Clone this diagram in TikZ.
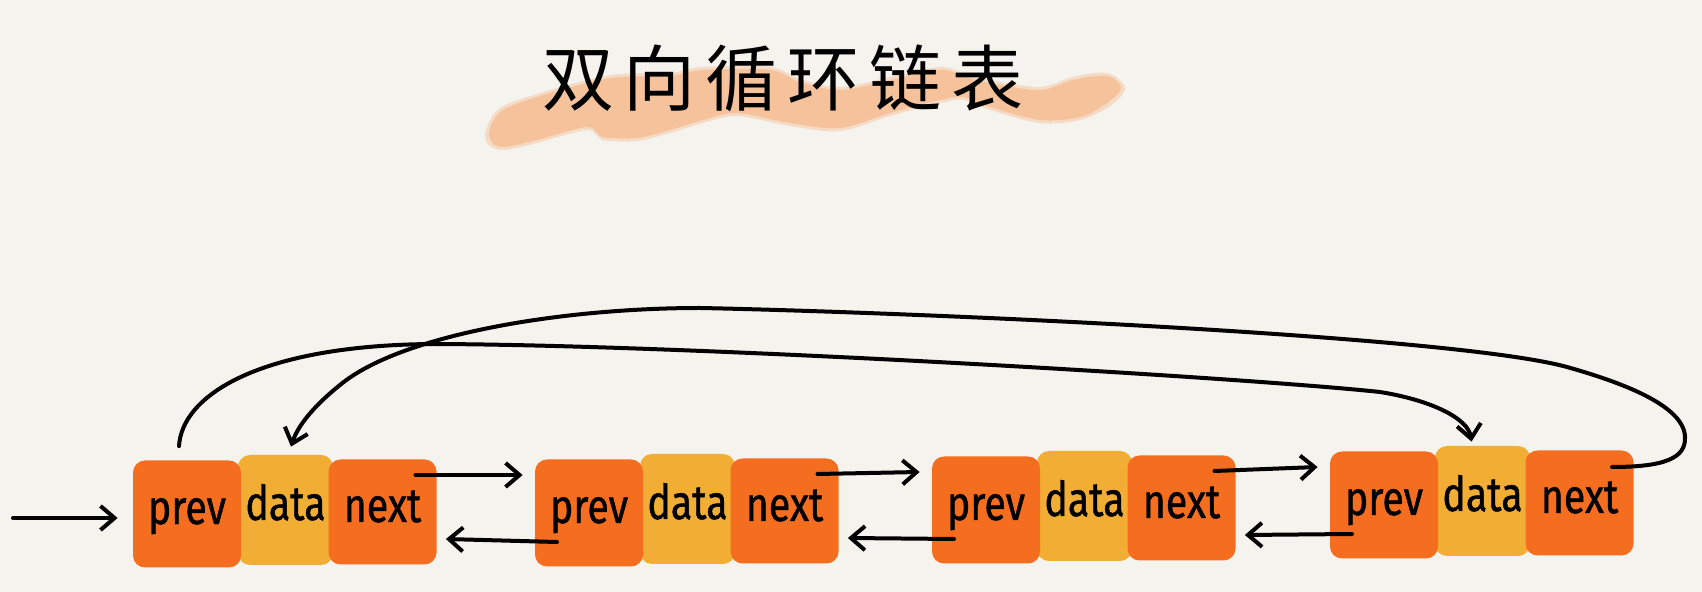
\documentclass[tikz,border=0pt]{standalone}
\usepackage{fontspec}
\usepackage{graphicx}
\setmainfont{Fira Sans}
\newfontfamily\hand{Fira Sans}[FakeBold=1]
\newfontfamily\cjk{Noto Sans CJK SC}
\usetikzlibrary{arrows.meta,calc}
\definecolor{bg}{HTML}{F4F3EE}
\definecolor{org}{HTML}{F56D1F}
\definecolor{yel}{HTML}{F1AD34}
\definecolor{brushc}{HTML}{F5C29C}
\newcommand\hw[1]{\scalebox{0.82}[1]{#1}}
\begin{document}
\begin{tikzpicture}[x=0.5pt,y=-0.5pt,
  cell/.style={rounded corners=6pt, inner sep=0pt, text height=12pt, text depth=2pt,
    font=\hand\fontsize{24}{24}\selectfont},
  obox/.style={cell, fill=org, minimum width=54pt},
  dbox/.style={cell, fill=yel, minimum width=47.5pt, minimum height=55pt},
  link/.style={line width=2pt, line cap=round, line join=round,
    -{Straight Barb[length=7pt,width=12pt]}},
]
\fill[bg] (0,0) rectangle (1702,592);
\useasboundingbox (0,0) rectangle (1702,592);

% title brush and title
\fill[brushc!50!bg] plot[smooth cycle, tension=0.55] coordinates {
  (486,130) (500,108) (537,94) (587,80) (620,74) (670,73) (703,67) (770,67)
  (800,79) (840,87) (890,77) (940,67) (963,73) (990,80) (1040,87) (1073,77)
  (1107,73) (1125,88) (1110,106) (1080,120) (1040,123) (990,110) (963,100)
  (940,103) (890,116) (840,131) (790,126) (737,116) (703,123) (670,133)
  (637,141) (603,140) (587,130) (537,143) (503,150) (488,144)};
\fill[brushc] plot[smooth cycle, tension=0.55] coordinates {
  (490,128) (503,110) (537,97) (587,83) (620,77) (670,76) (703,70) (770,70)
  (800,82) (840,90) (890,80) (940,70) (963,76) (990,83) (1040,90) (1073,80)
  (1107,76) (1121,88) (1107,103) (1080,117) (1040,120) (990,107) (963,97)
  (940,100) (890,113) (840,128) (790,123) (737,113) (703,120) (670,130)
  (637,138) (603,137) (587,127) (537,140) (503,147) (491,141)};
\node[font=\cjk\fontsize{36}{36}\selectfont] (title) at (783,78)
  {双\kern5pt 向\kern5pt 循\kern5pt 环\kern5pt 链\kern5pt 表};

% list nodes
\foreach \i/\L/\c in {1/133/512, 2/535/511, 3/932/508, 4/1330/503} {
  \node[dbox] (data\i) at (\L+152.5, \c-2) {\hw{data}};
  \node[obox, minimum height=53.5pt] (prev\i) at (\L+54, \c+2) {\hw{prev}};
  \node[obox, minimum height=52.5pt] (next\i) at (\L+249.5, \c) {\hw{next}};
}

% head pointer
\coordinate (in) at (13,518);
\draw[link] (in) -- ($(prev1.west)+(-15,4)$);

% next / prev links
\foreach \i/\j in {1/2, 2/3, 3/4} {
  \draw[link] ($(next\i.center)+(33,-37)$) -- ($(prev\j.west)+(-12,-38)$);
  \draw[link] ($(prev\j.center)+(-32,29)$) -- ($(next\i.east)+(9,27)$);
}

% first.prev -> last
\draw[link] ($(prev1.north)+(-8,-14)$) .. controls (182,395) and (260,345) .. (434,344)
  .. controls (700,345) and (1250,378) .. (1380,392)
  .. controls (1430,400) and (1468,418) .. ($(data4.north)+(-11,-4)$);

% last.next -> first
\draw[link] ($(next4.center)+(32.5,-36)$) .. controls (1665,467) and (1686,458) .. (1685,437)
  .. controls (1684,405) and (1620,382) .. (1567,367)
  .. controls (1450,335) and (900,312) .. (700,308)
  .. controls (560,308) and (400,335) .. (340,385)
  .. controls (315,405) and (298,425) .. ($(data1.north)+(5.5,-8)$);
\end{tikzpicture}
\end{document}
